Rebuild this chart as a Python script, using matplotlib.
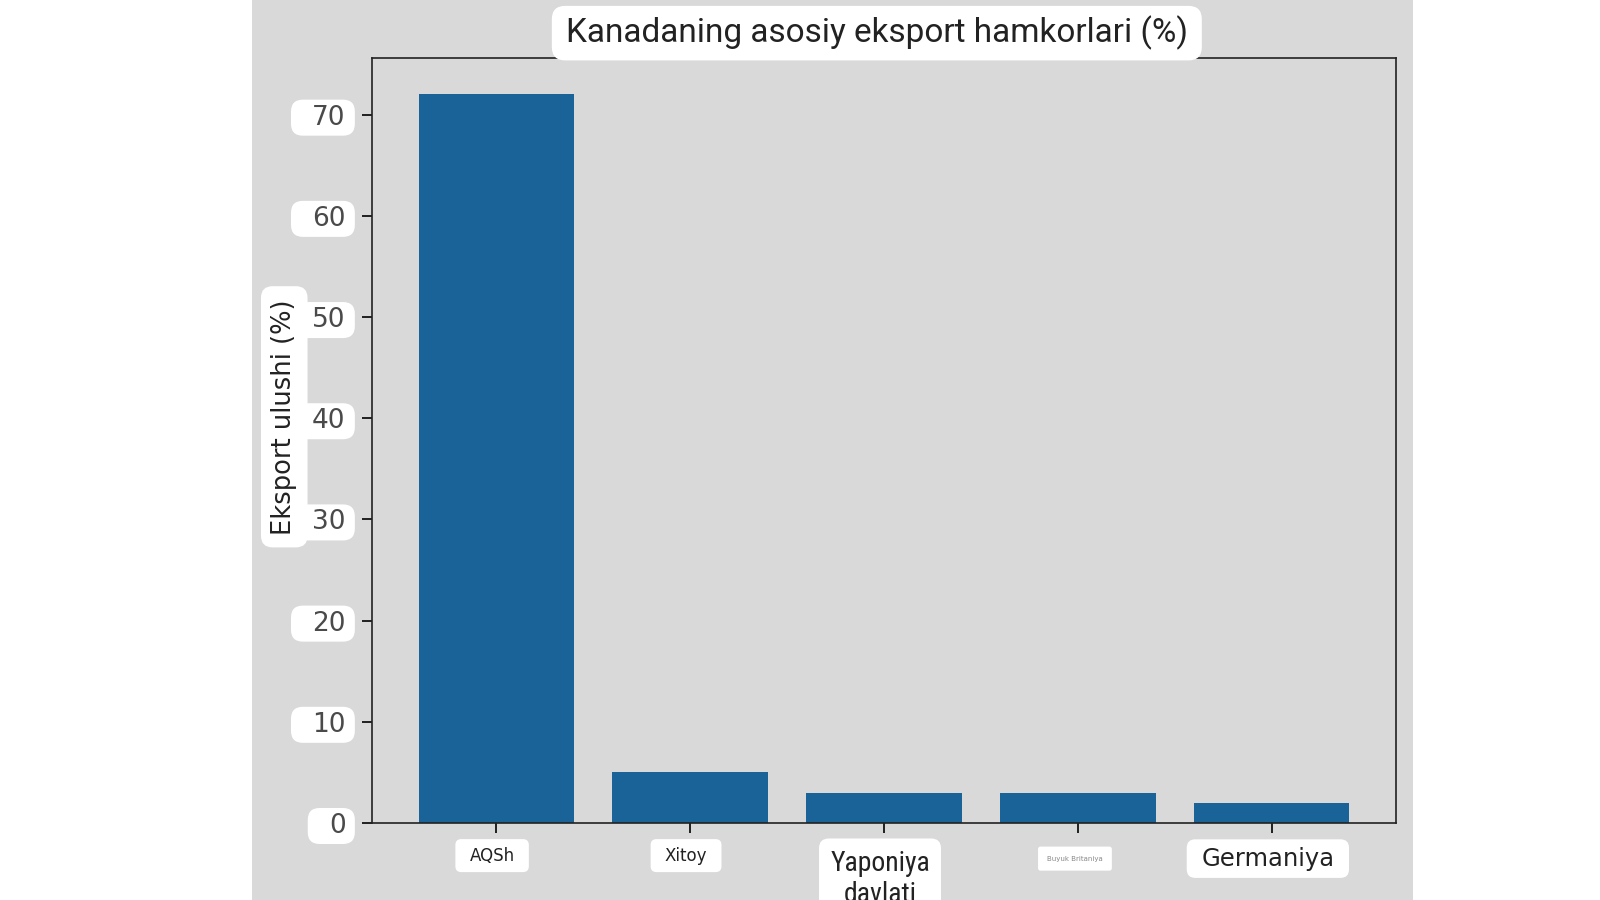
import matplotlib
matplotlib.use("Agg")
import matplotlib.pyplot as plt
from matplotlib.patches import Rectangle
from matplotlib.path import Path
from matplotlib.transforms import ScaledTranslation

categories = ["AQSh", "Xitoy", "Yaponiya\ndavlati", "Buyuk Britaniya", "Germaniya"]
shares = [72, 5, 3, 3, 2]
yticks = [0, 10, 20, 30, 40, 50, 60, 70]

title = "Kanadaning asosiy eksport hamkorlari (%)"
ylabel = "Eksport ulushi (%)"

GRAY = "#d9d9d9"
BAR = "#1a6399"


def make_box(pl, pr, pv, rad=0.35):
    """Rounded box with separate left/right/vertical padding (in font-size units)."""
    def box(x0, y0, width, height, mutation_size):
        m = mutation_size
        xa = x0 - pl * m
        xb = x0 + width + pr * m
        ya = y0 - pv * m
        yb = y0 + height + pv * m
        r = min(rad * m, (yb - ya) / 2, (xb - xa) / 2)
        verts = [(xa + r, ya), (xb - r, ya), (xb, ya), (xb, ya + r),
                 (xb, yb - r), (xb, yb), (xb - r, yb),
                 (xa + r, yb), (xa, yb), (xa, yb - r),
                 (xa, ya + r), (xa, ya), (xa + r, ya), (xa + r, ya)]
        codes = [Path.MOVETO, Path.LINETO, Path.CURVE3, Path.CURVE3,
                 Path.LINETO, Path.CURVE3, Path.CURVE3,
                 Path.LINETO, Path.CURVE3, Path.CURVE3,
                 Path.LINETO, Path.CURVE3, Path.CURVE3, Path.CLOSEPOLY]
        return Path(verts, codes)
    return box


fig = plt.figure(figsize=(16, 9), dpi=100, facecolor="white")
fig.patches.append(Rectangle((252 / 1600, 0), (1413 - 252) / 1600, 1,
                             transform=fig.transFigure, facecolor=GRAY,
                             edgecolor="none", zorder=-10))

ax = fig.add_axes([372 / 1600, 1 - 823 / 900, (1396 - 372) / 1600, (823 - 58) / 900])
ax.set_facecolor(GRAY)

x = list(range(len(categories)))
ax.bar(x, shares, width=0.8, color=BAR)

for s in ax.spines.values():
    s.set_linewidth(1.2)
    s.set_color("#222222")

ax.set_yticks(yticks)
ax.set_yticklabels([str(v) for v in yticks])
ax.tick_params(axis="y", length=7, width=1.2, pad=12, labelsize=19, labelcolor="#4a4a4a")

ax.set_xticks(x)
ax.set_xticklabels(categories)
ax.tick_params(axis="x", length=7, width=1.2, pad=10, labelcolor="#222222")

for lab in ax.get_yticklabels():
    lab.set_bbox(dict(boxstyle=make_box(0.8, 0.35, 0.19, 0.45), facecolor="white", edgecolor="none"))

condensed = ["Roboto Condensed", "DejaVu Sans Condensed", "Liberation Sans Narrow",
             "Open Sans Condensed", "DejaVu Sans"]
styles = [
    dict(size=12, family=["DejaVu Sans"], box=(0.85, 0.85, 0.45), dy=0, dx=-4),
    dict(size=12, family=["DejaVu Sans"], box=(0.85, 0.85, 0.45), dy=0, dx=-4),
    dict(size=20, family=condensed, box=(0.4, 0.4, 0.4), dy=3, dx=-4),
    dict(size=5, family=["DejaVu Sans"], box=(1.3, 1.3, 1.3), dy=9, dx=-3),
    dict(size=17.5, family=["DejaVu Sans"], box=(0.6, 0.6, 0.3), dy=0, dx=-4),
]
for lab, st in zip(ax.get_xticklabels(), styles):
    lab.set_fontsize(st["size"])
    lab.set_family(st["family"])
    if st["family"] is condensed:
        lab.set_fontstretch("condensed")
    lab.set_bbox(dict(boxstyle=make_box(*st["box"]), facecolor="white", edgecolor="none"))
    lab.set_transform(lab.get_transform() +
                      ScaledTranslation(st["dx"] / 100, -st["dy"] / 100, fig.dpi_scale_trans))
ax.get_xticklabels()[3].set_color("#888888")

ax.set_ylim(0, 75.6)

ax.set_ylabel(ylabel, fontsize=18.5, color="#222222", family="DejaVu Sans",
              bbox=dict(boxstyle=make_box(0.5, 0.5, 0.4, 0.45), facecolor="white", edgecolor="none"))
ax.yaxis.set_label_coords(-0.073, 0.531)

ax.set_title(title, fontsize=24, family=["Roboto", "DejaVu Sans"], color="#222222", pad=11,
             x=0.493,
             bbox=dict(boxstyle=make_box(0.42, 0.42, 0.3, 0.4), facecolor="white", edgecolor="none"))

fig.savefig("out.png", dpi=100, facecolor="white")
